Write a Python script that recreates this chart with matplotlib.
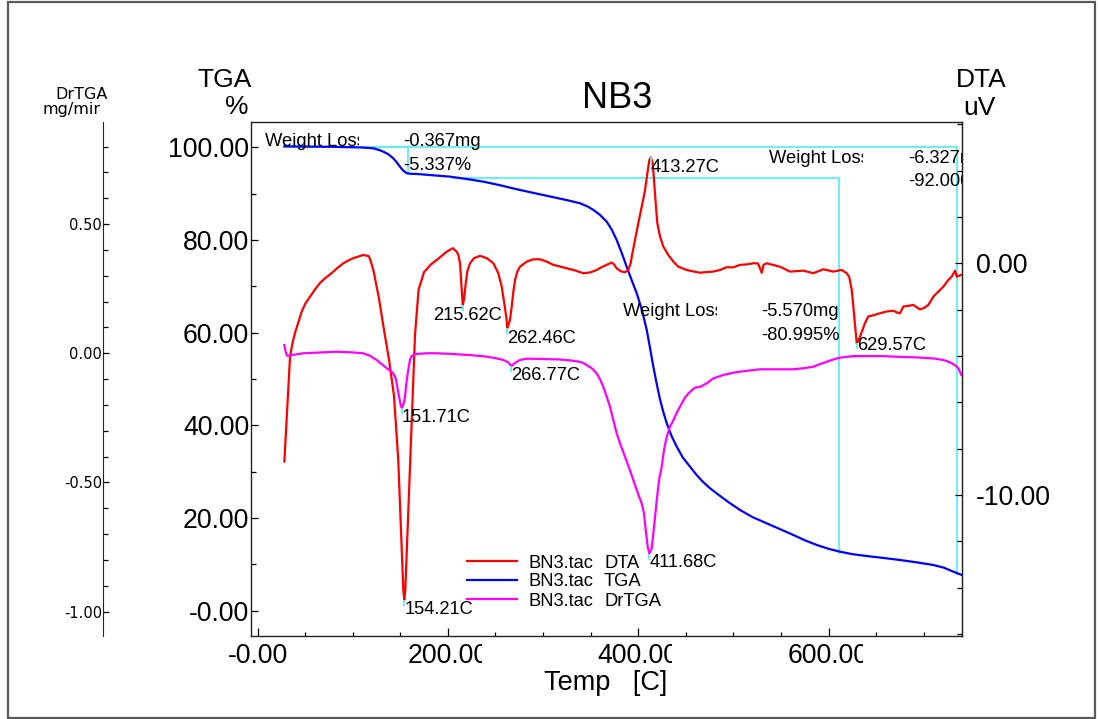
import numpy as np
import matplotlib
matplotlib.use("Agg")
import matplotlib.pyplot as plt
from matplotlib.path import Path
from matplotlib.patches import Rectangle
from matplotlib.lines import Line2D
from matplotlib.ticker import FixedLocator, MultipleLocator, FixedFormatter
from matplotlib.transforms import Bbox, blended_transform_factory, offset_copy

plt.rcParams['font.family'] = ['Liberation Sans', 'DejaVu Sans']

# ---------------- data ----------------
# DTA signal (uV) against sample temperature (C)
dta_temp = [28.2, 34.2, 36.8, 39.4, 46.4, 50.4, 55.2, 60.4, 65.7, 71.5, 78.0, 84.1, 90.2,
            95.4, 100.7, 105.9, 111.2, 114.0, 116.4, 118.2, 121.9, 127.7, 132.9, 138.2,
            143.4, 147.9, 151.1, 153.2, 154.21, 155.3, 158.1, 161.8, 165.5, 169.2, 175.0,
            182.3, 188.3, 193.5, 198.8, 205.1, 209.3, 211.0, 212.8, 214.6, 215.62, 216.9,
            218.8, 220.4, 223.3, 227.5, 233.8, 240.8, 247.8, 253.0, 256.6, 259.3, 261.8,
            262.46, 265.3, 267.1, 268.8, 270.6, 273.0, 275.8, 282.9, 289.8, 296.8, 303.9,
            310.8, 317.9, 324.9, 333.6, 342.3, 349.4, 356.4, 362.0, 366.9, 372.2, 374.6,
            377.4, 381.9, 386.2, 389.6, 392.1, 393.2, 396.7, 400.1, 403.7, 407.2, 409.6,
            411.7, 413.27, 415.2, 416.6, 418.4, 420.1, 422.9, 426.4, 431.6, 436.9, 442.2,
            451.0, 457.6, 465.0, 472.0, 478.9, 486.0, 493.0, 499.6, 507.0, 514.3, 521.0,
            525.9, 529.8, 531.7, 535.0, 549.0, 559.5, 573.5, 584.0, 594.5, 605.0, 613.9,
            619.1, 621.7, 624.4, 625.7, 627.3, 628.9, 629.57, 631.2, 633.0, 635.7, 638.2,
            641.7, 646.6, 654.0, 661.4, 668.1, 672.0, 675.1, 678.5, 683.5, 689.1, 693.0,
            696.1, 700.3, 704.8, 707.7, 710.1, 715.0, 720.6, 725.9, 729.2, 732.9, 734.7,
            739.5]
dta_uv = [-8.56, -4.03, -3.44, -3.01, -2.09, -1.73, -1.44, -1.13, -0.85, -0.63, -0.42, -0.20,
          0.00, 0.12, 0.22, 0.29, 0.36, 0.33, 0.32, 0.19, -0.32, -1.54, -2.88, -4.17,
          -5.72, -8.50, -11.90, -14.10, -14.53, -14.10, -11.07, -7.18, -3.09, -1.15, -0.38,
          -0.05, 0.14, 0.32, 0.50, 0.65, 0.50, 0.36, 0.00, -1.15, -1.80, -1.58,
          -0.86, -0.36, 0.00, 0.22, 0.32, 0.22, 0.00, -0.43, -1.01, -1.73, -2.45,
          -2.81, -2.45, -1.87, -1.23, -0.72, -0.36, -0.15, 0.07, 0.17, 0.17, 0.07,
          -0.07, -0.14, -0.22, -0.31, -0.43, -0.40, -0.29, -0.16, -0.07, 0.03, -0.05,
          -0.22, -0.35, -0.39, -0.29, 0.00, 0.28, 1.01, 1.73, 2.44, 3.16, 3.88,
          4.45, 4.57, 4.32, 3.60, 2.59, 1.73, 1.15, 0.72, 0.36, 0.07, -0.15,
          -0.29, -0.35, -0.41, -0.38, -0.36, -0.29, -0.17, -0.18, -0.07, -0.05, 0.00,
          -0.01, -0.41, -0.07, 0.00, -0.15, -0.36, -0.32, -0.43, -0.26, -0.36, -0.29,
          -0.43, -0.59, -1.15, -1.71, -2.45, -3.14, -3.45, -3.35, -3.17, -2.88, -2.59,
          -2.30, -2.25, -2.16, -2.08, -2.05, -2.13, -2.16, -1.87, -1.84, -1.80, -1.91,
          -1.99, -1.93, -1.80, -1.61, -1.44, -1.24, -1.01, -0.72, -0.59, -0.32, -0.58,
          -0.50]

# TGA residual mass (%)
tga_temp = [28.2, 80.0, 110.0, 121.7, 128.0, 132.2, 137.5, 142.7, 146.5, 149.7, 153.0,
            156.8, 161.0, 167.3, 185.0, 202.3, 220.0, 237.3, 255.0, 272.4, 290.0, 307.4,
            325.0, 338.9, 347.0, 352.8, 359.9, 366.9, 372.0, 377.4, 382.5, 387.9, 393.0,
            398.5, 404.0, 409.0, 412.5, 415.9, 419.5, 423.0, 426.5, 430.0, 435.0, 440.5,
            447.0, 454.5, 460.5, 467.1, 475.0, 483.3, 495.0, 507.0, 520.0, 535.0, 549.0,
            563.0, 575.0, 587.6, 600.0, 612.1, 625.0, 640.1, 657.0, 675.1, 692.0, 710.1,
            721.0, 731.1, 739.5]
tga_pct = [100.2, 100.1, 99.95, 99.78, 99.4, 99.05, 98.5, 97.62, 96.7, 95.81, 95.0,
           94.39, 94.28, 94.24, 93.95, 93.66, 93.15, 92.58, 91.8, 90.94, 90.15, 89.38,
           88.6, 87.92, 87.2, 86.5, 85.4, 83.94, 82.3, 79.99, 77.3, 74.23, 71.4,
           68.49, 64.8, 60.57, 56.6, 52.65, 48.9, 45.53, 42.8, 40.44, 37.7, 35.39,
           33.0, 31.07, 29.5, 27.99, 26.5, 25.18, 23.4, 21.73, 20.2, 18.86, 17.6,
           16.34, 15.2, 14.18, 13.35, 12.73, 12.2, 11.80, 11.4, 10.94, 10.45, 9.86,
           9.3, 8.42, 7.74]

# Derivative of TGA (mg/min)
dtg_temp = [28.2, 29.9, 31.3, 37.6, 48.1, 65.7, 83.2, 100.7, 111.2, 118.2, 125.2, 130.5,
            135.8, 140.0, 142.7, 145.2, 146.9, 148.7, 150.5, 151.71, 153.6, 155.0, 156.4,
            157.8, 159.2, 160.2, 162.0, 165.5, 177.8, 188.3, 205.7, 223.3, 240.8, 251.3,
            258.3, 263.5, 266.77, 270.6, 275.8, 282.9, 296.8, 317.9, 331.8, 340.7, 345.9,
            351.2, 356.4, 359.9, 363.3, 366.9, 370.4, 373.9, 377.4, 381.6, 386.2, 390.7,
            394.9, 399.1, 403.7, 406.1, 407.9, 410.0, 411.68, 414.2, 415.9, 417.7, 419.5,
            421.9, 424.7, 427.1, 430.0, 433.4, 436.9, 441.1, 445.7, 449.9, 454.5, 459.7,
            465.0, 472.0, 479.0, 489.4, 500.0, 514.0, 528.0, 545.5, 563.0, 573.5, 584.0,
            591.0, 598.1, 605.0, 612.0, 626.0, 640.1, 657.6, 675.1, 692.6, 710.1, 720.6,
            727.6, 732.9, 736.4, 739.5]
dtg_mgmin = [0.032, 0.000, -0.010, -0.006, 0.000, 0.003, 0.006, 0.003, 0.000, -0.010,
             -0.026, -0.042, -0.058, -0.069, -0.078, -0.097, -0.130, -0.168, -0.200, -0.213,
             -0.194, -0.168, -0.116, -0.078, -0.046, -0.026, -0.011, -0.003, 0.000, 0.000,
             -0.003, -0.007, -0.013, -0.020, -0.026, -0.035, -0.050, -0.037, -0.026, -0.021,
             -0.022, -0.024, -0.029, -0.035, -0.046, -0.058, -0.078, -0.101, -0.130, -0.168,
             -0.207, -0.259, -0.310, -0.356, -0.401, -0.446, -0.491, -0.536, -0.581, -0.620,
             -0.684, -0.749, -0.775, -0.755, -0.697, -0.633, -0.568, -0.491, -0.439, -0.375,
             -0.323, -0.284, -0.259, -0.226, -0.194, -0.168, -0.149, -0.133, -0.130, -0.116,
             -0.097, -0.084, -0.075, -0.068, -0.062, -0.062, -0.062, -0.058, -0.052, -0.042,
             -0.033, -0.024, -0.017, -0.011, -0.011, -0.011, -0.014, -0.016, -0.020, -0.026,
             -0.035, -0.046, -0.058, -0.084]

# Peak temperatures picked on each curve
dta_peak_temps = [154.21, 215.62, 262.46, 413.27, 629.57]
dtg_peak_temps = [151.71, 266.77, 411.68]

# Weight-loss steps: start/end temperature, start level, loss in mg and %
wl_start_temp = [28.2, 205.0, 28.2]
wl_end_temp = [157.8, 611.3, 734.7]
wl_start_pct = [100.0, 93.4, 100.0]
wl_loss_mg = [0.367, 5.570, 6.327]
wl_loss_pct = [5.337, 80.995, 92.00]

# Axis ticks and labels
temp_ticks = [0, 200, 400, 600]
temp_tick_labels = ["-0.00", "200.00", "400.00", "600.00"]
tga_ticks = [0, 20, 40, 60, 80, 100]
tga_tick_labels = ["-0.00", "20.00", "40.00", "60.00", "80.00", "100.00"]
dta_ticks = [-10, 0]
dta_tick_labels = ["-10.00", "0.00"]
dtg_ticks = [-1.0, -0.5, 0.0, 0.5]
dtg_tick_labels = ["-1.00", "-0.50", "0.00", "0.50"]

legend_file = "BN3.tac"
legend_names = ["DTA", "TGA", "DrTGA"]

# ---------------- figure ----------------
W, H, DPI = 1098, 719, 100
fig = plt.figure(figsize=(W / DPI, H / DPI), dpi=DPI)
fig.patch.set_facecolor('white')


def fx(x):
    return x / W


def fy(y):
    return 1 - y / H


def clip_right(txt, x_right):
    """Cut a text off at a pixel column (display coordinates)."""
    txt.set_clip_path(None)
    txt.set_clip_box(Bbox.from_extents(0, 0, x_right, H))
    txt.set_clip_on(True)


# outer frame
fig.patches.append(Rectangle((fx(8), fy(717.5)), fx(1095) - fx(8), fy(2) - fy(717.5),
                             transform=fig.transFigure, fill=False,
                             edgecolor='#5a5a5a', linewidth=1.6))

ax = fig.add_axes([fx(250.7), fy(636.0), fx(961.7) - fx(250.7), fy(121.7) - fy(636.0)])
ax2 = ax.twinx()
ax3 = ax.twinx()

ax.set_xlim(-7.15, 739.9)
ax.set_ylim(-5.46, 105.52)
ax2.set_ylim(-16.09, 6.11)
ax3.set_ylim(-1.094, 0.896)

RED, BLUE, MAG, CYAN = '#ff0000', '#0000ff', '#ff00ff', '#5cf0f0'

# weight-loss step guides
for t0, t1, p0, dp in zip(wl_start_temp, wl_end_temp, wl_start_pct, wl_loss_pct):
    ax.plot([t0, t1, t1], [p0, p0, p0 - dp], color=CYAN, lw=1.3, zorder=1)

ln_tga, = ax.plot(tga_temp, tga_pct, color=BLUE, lw=1.6, zorder=3)
ln_dta, = ax2.plot(dta_temp, dta_uv, color=RED, lw=1.6, zorder=3)
ln_dtg, = ax3.plot(dtg_temp, dtg_mgmin, color=MAG, lw=1.6, zorder=3)

# spines
for s in ax.spines.values():
    s.set_linewidth(1.0)
    s.set_color('#222222')
for name in ('left', 'top', 'bottom'):
    ax2.spines[name].set_visible(False)
ax2.spines['right'].set_color('#222222')
for name in ('right', 'top', 'bottom'):
    ax3.spines[name].set_visible(False)
ax3.spines['left'].set_visible(True)
ax3.spines['left'].set_position(('axes', -0.2073))
ax3.spines['left'].set_color('#222222')

# x axis
ax.xaxis.set_major_locator(FixedLocator(temp_ticks))
ax.xaxis.set_minor_locator(MultipleLocator(50))
ax.tick_params(axis='x', which='both', direction='in', labelbottom=False, top=False)
ax.tick_params(axis='x', which='major', length=5.5, width=0.9)
ax.tick_params(axis='x', which='minor', length=3, width=0.9)
xtr = offset_copy(blended_transform_factory(ax.transData, ax.transAxes), fig=fig,
                  y=-5, units='points')
for t, lab in zip(temp_ticks, temp_tick_labels):
    txt = fig.text(t, 0, lab, transform=xtr, ha='center', va='top', fontsize=19.2)
    xc = ax.transData.transform((t, 0))[0]
    clip_right(txt, xc + 34)

# TGA axis (left)
ax.yaxis.set_major_locator(FixedLocator(tga_ticks))
ax.yaxis.set_major_formatter(FixedFormatter(tga_tick_labels))
ax.yaxis.set_minor_locator(MultipleLocator(10))
ax.tick_params(axis='y', which='both', direction='in', right=False, pad=1, labelsize=19.2)
ax.tick_params(axis='y', which='major', length=5, width=0.9)
ax.tick_params(axis='y', which='minor', length=3.5, width=0.9)

# DTA axis (right)
ax2.yaxis.set_major_locator(FixedLocator(dta_ticks))
ax2.yaxis.set_major_formatter(FixedFormatter(dta_tick_labels))
ax2.yaxis.set_minor_locator(MultipleLocator(2))
ax2.tick_params(axis='y', which='both', direction='in', pad=10, labelsize=19.2)
ax2.tick_params(axis='y', which='major', length=5, width=0.9)
ax2.tick_params(axis='y', which='minor', length=3.5, width=0.9)

# DrTGA axis (far left)
ax3.yaxis.tick_left()
ax3.yaxis.set_major_locator(FixedLocator(dtg_ticks))
ax3.yaxis.set_major_formatter(FixedFormatter(dtg_tick_labels))
ax3.yaxis.set_minor_locator(MultipleLocator(0.1))
ax3.tick_params(axis='y', which='both', direction='in', pad=1, labelsize=10.5,
                labelfontfamily='DejaVu Sans')
ax3.tick_params(axis='y', which='major', length=4.5, width=0.9)
ax3.tick_params(axis='y', which='minor', length=3.5, width=0.9)

# peak markers and labels
tick_path = Path([(0, 0), (0, -1)])
dta_offsets = {215.62: (-21.5, -1.5), 629.57: (0, 4.5)}
for t in dta_peak_temps:
    v = float(np.interp(t, dta_temp, dta_uv))
    ax2.plot([t], [v], marker=tick_path, ms=9, mew=1.3, mec=CYAN, ls='none', zorder=4)
    dx, dy = dta_offsets.get(t, (0, -1.0))
    ax2.annotate(f"{t:.2f}C", xy=(t, v), xytext=(dx, dy), textcoords='offset points',
                 ha='left', va='top', fontsize=13.2)
for t in dtg_peak_temps:
    v = float(np.interp(t, dtg_temp, dtg_mgmin))
    ax3.plot([t], [v], marker=tick_path, ms=9, mew=1.3, mec=CYAN, ls='none', zorder=4)
    ax3.annotate(f"{t:.2f}C", xy=(t, v), xytext=(0, -0.5), textcoords='offset points',
                 ha='left', va='top', fontsize=13.2)

# weight-loss readouts (pixel anchors: label left edge, first baseline)
wl_anchor = [(265.0, 146.3), (622.7, 316.3), (769.3, 163.0)]
for (x0, yb), mg, pct in zip(wl_anchor, wl_loss_mg, wl_loss_pct):
    t = fig.text(fx(x0), fy(yb), "Weight Loss", ha='left', va='baseline', fontsize=13.2)
    clip_right(t, x0 + 94)
    t1 = fig.text(fx(x0 + 138.5), fy(yb), f"-{mg:.3f}mg", ha='left', va='baseline',
                  fontsize=13.2)
    t2 = fig.text(fx(x0 + 138.5), fy(yb + 23.3), f"-{pct:.3f}%", ha='left',
                  va='baseline', fontsize=13.2)
    clip_right(t1, 961.7)
    clip_right(t2, 961.7)

# legend
leg_rows = [561.3, 580.0, 599.3]
for ln, name, yrow in zip([ln_dta, ln_tga, ln_dtg], legend_names, leg_rows):
    fig.add_artist(Line2D([fx(467.3), fx(517.3)], [fy(yrow), fy(yrow)],
                          transform=fig.transFigure, color=ln.get_color(), lw=1.6))
    fig.text(fx(528.3), fy(yrow + 6.5), legend_file, ha='left', va='baseline',
             fontsize=13.2)
    fig.text(fx(604.0), fy(yrow + 6.5), name, ha='left', va='baseline', fontsize=13.2)

# titles and axis captions
fig.text(fx(617), fy(108), "NB3", ha='center', va='baseline', fontsize=26)
fig.text(fx(251.7), fy(86.7), "TGA", ha='right', va='baseline', fontsize=19)
fig.text(fx(248), fy(113.5), "%", ha='right', va='baseline', fontsize=19)
fig.text(fx(981.5), fy(87), "DTA", ha='center', va='baseline', fontsize=19)
fig.text(fx(979.5), fy(115), "uV", ha='center', va='baseline', fontsize=19)
fig.text(fx(81.3), fy(98.7), "DrTGA", ha='center', va='baseline', fontsize=11.5,
         family='DejaVu Sans')
mt = fig.text(fx(43), fy(114), "mg/min", ha='left', va='baseline', fontsize=11.5,
              family='DejaVu Sans')
clip_right(mt, 100)
fig.text(fx(605.5), fy(690), "Temp   [C]", ha='center', va='baseline', fontsize=19.5)

fig.savefig("out.png", dpi=DPI, facecolor='white')
